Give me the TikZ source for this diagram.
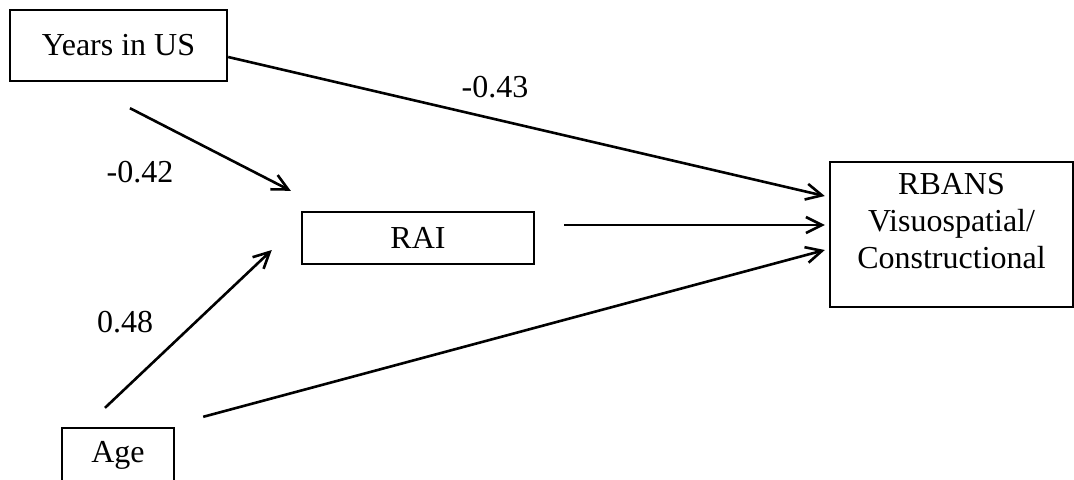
\documentclass[tikz,border=0pt]{standalone}
\usepackage{fontspec}
\setmainfont{Liberation Serif}
\usetikzlibrary{arrows.meta}
\tikzset{%
  varbox/.style = {shape=rectangle, draw, line width=1.2pt, align=center,%
                   inner sep=0pt},%
  coef/.style   = {inner sep=0pt},%
  path/.style   = {line width=1.3pt, -{Straight Barb[length=8pt,width=8pt,line width=1.3pt]}}%
}
\begin{document}
\begin{tikzpicture}[x=0.5pt, y=-0.5pt, every node/.style = {font=\fontsize{16}{18.5}\selectfont}]
  \useasboundingbox (0,0) rectangle (1074,479);
  \node[varbox, minimum width=108.5pt, minimum height=35.5pt] (years) at (118.5,45.5) {Years in US};
  \node[varbox, minimum width=116pt, minimum height=26pt] (rai) at (418,238) {RAI};
  \node[varbox, minimum width=121.5pt, minimum height=72.5pt] (rbans) at (951.5,234.5)
    {RBANS\\Visuospatial/\\Constructional\\[-5pt]\mbox{}};
  \node[varbox, minimum width=56pt, minimum height=28pt] (age) at (118,456) {\raisebox{4pt}{Age}};
  \node[coef] (c1) at (495,87) {-0.43};
  \node[coef] (c2) at (140,172) {-0.42};
  \node[coef] (c3) at (125,322) {0.48};
  \draw[path] ([yshift=-5.75pt]years.east) -- ([xshift=-2pt,yshift=19.25pt]rbans.west);
  \draw[path] ([xshift=5.75pt,yshift=-13pt]years.south) -- ([xshift=-5pt,yshift=10pt]rai.north west);
  \draw[path] ([xshift=14.5pt,yshift=6.5pt]rai.east) -- ([xshift=-2pt,yshift=4.75pt]rbans.west);
  \draw[path] ([xshift=-6.5pt,yshift=9.5pt]age.north) -- ([xshift=-14.5pt,yshift=-6pt]rai.west);
  \draw[path] ([xshift=14pt,yshift=5pt]age.north east) -- ([xshift=-2pt,yshift=-7.75pt]rbans.west);
\end{tikzpicture}
\end{document}
